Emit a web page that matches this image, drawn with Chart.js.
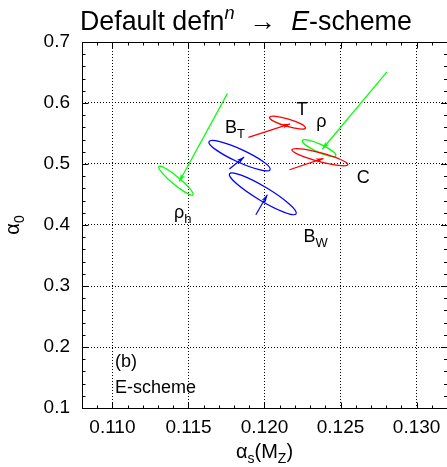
<!DOCTYPE html>
<html>
<head>
<meta charset="utf-8">
<script src="https://cdn.jsdelivr.net/npm/chart.js@4"></script>
<style>
  html, body { margin: 0; padding: 0; background: #fff; }
  #wrap { width: 447px; height: 467px; }
</style>
</head>
<body>
<div id="wrap"><canvas id="chart" width="447" height="467"></canvas></div>
<script>
// --- ejes ---
const xMin = 0.108, xMax = 0.132;
const yMin = 0.1, yMax = 0.7;
const xMajorTicks = [0.110, 0.115, 0.120, 0.125, 0.130];
const yMajorTicks = [0.1, 0.2, 0.3, 0.4, 0.5, 0.6, 0.7];
const xMinorStep = 0.001;
const yMinorStep = 0.02;

// --- elipses (centro, extremo del eje mayor, razon menor/mayor) ---
const ellipseColors = ['#00ff00', '#0000ff', '#0000ff', '#ff0000', '#00ff00', '#ff0000'];
const ellipseCx = [0.11418, 0.11836, 0.11989, 0.12151, 0.12359, 0.12364];
const ellipseCy = [0.4726, 0.5136, 0.4512, 0.5678, 0.5260, 0.5112];
const ellipseMx = [0.11530, 0.12037, 0.12208, 0.12269, 0.12469, 0.12548];
const ellipseMy = [0.4493, 0.4906, 0.4184, 0.5591, 0.5136, 0.4989];
const ellipseRatio = [0.18, 0.19, 0.18, 0.2, 0.22, 0.15];

// --- flechas: default -> E-scheme ---
const arrowX0 = [0.11756, 0.11769, 0.11943, 0.11894, 0.12805, 0.12164];
const arrowY0 = [0.6154, 0.4918, 0.4168, 0.5437, 0.6511, 0.4906];
const arrowX1 = [0.11440, 0.11866, 0.12019, 0.12168, 0.12381, 0.12388];
const arrowY1 = [0.4714, 0.5115, 0.4496, 0.5657, 0.5246, 0.5092];

// --- etiquetas (x izquierda, linea base) ---
const labelMain = ['ρ', 'B', 'B', 'T', 'ρ', 'C', '(b)', 'E-scheme'];
const labelSub  = ['h', 'T', 'W', '', '', '', '', ''];
const labelX = [0.11405, 0.11741, 0.12256, 0.12211, 0.12340, 0.12607, 0.11017, 0.11017];
const labelY = [0.4110, 0.5509, 0.3729, 0.5798, 0.5613, 0.4688, 0.1672, 0.1240];

const FONT = '"Liberation Sans", Arial, sans-serif';

function isMajor(v, list) {
    return list.some(m => Math.abs(v - m) < 1e-7);
}

// texto con subindices / superindices
function richWidth(ctx, segs) {
    let w = 0;
    segs.forEach(s => {
        ctx.font = (s.italic ? 'italic ' : '') + s.size + 'px ' + FONT;
        w += ctx.measureText(s.t).width;
    });
    return w;
}
function drawRich(ctx, segs, x, y, align) {
    let cx = align === 'center' ? x - richWidth(ctx, segs) / 2 : x;
    ctx.textAlign = 'left';
    ctx.textBaseline = 'alphabetic';
    segs.forEach(s => {
        ctx.font = (s.italic ? 'italic ' : '') + s.size + 'px ' + FONT;
        ctx.fillText(s.t, cx, y + (s.dy || 0));
        cx += ctx.measureText(s.t).width;
    });
}

function titleSegs(sz) {
    return [
        { t: 'Default defn', size: sz },
        { t: 'n', size: sz * 0.68, italic: true, dy: -sz * 0.4 },
        { t: '  \u2192  ', size: sz },
        { t: 'E', size: sz, italic: true },
        { t: '-scheme', size: sz }
    ];
}

const overlayPlugin = {
    id: 'overlay',
    afterDatasetsDraw(chart) {
        const ctx = chart.ctx;
        const xs = chart.scales.x, ys = chart.scales.y;
        ctx.save();
        // elipses
        for (let i = 0; i < ellipseCx.length; i++) {
            const cx = xs.getPixelForValue(ellipseCx[i]), cy = ys.getPixelForValue(ellipseCy[i]);
            const mx = xs.getPixelForValue(ellipseMx[i]), my = ys.getPixelForValue(ellipseMy[i]);
            const a = Math.hypot(mx - cx, my - cy);
            const ang = Math.atan2(my - cy, mx - cx);
            ctx.beginPath();
            ctx.ellipse(cx, cy, a, a * ellipseRatio[i], ang, 0, Math.PI * 2);
            ctx.strokeStyle = ellipseColors[i];
            ctx.lineWidth = 1.3;
            ctx.stroke();
        }
        // puntas de flecha
        for (let i = 0; i < arrowX0.length; i++) {
            const x0 = xs.getPixelForValue(arrowX0[i]), y0 = ys.getPixelForValue(arrowY0[i]);
            const x1 = xs.getPixelForValue(arrowX1[i]), y1 = ys.getPixelForValue(arrowY1[i]);
            const th = Math.atan2(y1 - y0, x1 - x0);
            const L = 8, phi = 0.3;
            ctx.beginPath();
            ctx.moveTo(x1, y1);
            ctx.lineTo(x1 - L * Math.cos(th - phi), y1 - L * Math.sin(th - phi));
            ctx.lineTo(x1 - L * 0.7 * Math.cos(th), y1 - L * 0.7 * Math.sin(th));
            ctx.lineTo(x1 - L * Math.cos(th + phi), y1 - L * Math.sin(th + phi));
            ctx.closePath();
            ctx.fillStyle = ellipseColors[i];
            ctx.fill();
        }
        ctx.restore();
    },
    afterDraw(chart) {
        const ctx = chart.ctx;
        const area = chart.chartArea;
        const xs = chart.scales.x, ys = chart.scales.y;
        const L = Math.round(area.left) + 0.5, T = Math.round(area.top) + 0.5;
        const B = Math.round(area.bottom) + 0.5, R = Math.round(area.right) + 0.5;
        ctx.save();
        // marco (el borde derecho queda fuera de la imagen)
        ctx.strokeStyle = '#000';
        ctx.lineWidth = 1;
        ctx.beginPath();
        ctx.moveTo(R + 1, T); ctx.lineTo(L, T); ctx.lineTo(L, B); ctx.lineTo(R + 1, B);
        ctx.stroke();
        // marcas hacia dentro
        ctx.beginPath();
        xs.ticks.forEach(t => {
            const px = Math.round(xs.getPixelForValue(t.value)) + 0.5;
            const len = isMajor(t.value, xMajorTicks) ? 6 : 3;
            ctx.moveTo(px, B); ctx.lineTo(px, B - len);
            ctx.moveTo(px, T); ctx.lineTo(px, T + len);
        });
        ys.ticks.forEach(t => {
            const py = Math.round(ys.getPixelForValue(t.value)) + 0.5;
            const len = isMajor(t.value, yMajorTicks) ? 6 : 3;
            ctx.moveTo(L, py); ctx.lineTo(L + len, py);
            ctx.moveTo(area.right, py); ctx.lineTo(area.right - len, py);
        });
        ctx.stroke();

        // etiquetas dentro del grafico
        ctx.fillStyle = '#000';
        for (let i = 0; i < labelMain.length; i++) {
            const segs = [{ t: labelMain[i], size: 18 }];
            if (labelSub[i]) segs.push({ t: labelSub[i], size: 13, dy: 5 });
            drawRich(ctx, segs, xs.getPixelForValue(labelX[i]), ys.getPixelForValue(labelY[i]), 'left');
        }

        // titulo, ajustado al ancho 80..412
        const w22 = richWidth(ctx, titleSegs(22));
        const tsz = 22 * 332 / w22;
        drawRich(ctx, titleSegs(tsz), 80, 30, 'left');

        // titulo eje x
        const xt = [
            { t: 'α', size: 20 }, { t: 's', size: 14, dy: 5 },
            { t: '(M', size: 20 }, { t: 'Z', size: 14, dy: 5 }, { t: ')', size: 20 }
        ];
        drawRich(ctx, xt, (area.left + area.right) / 2, 458, 'center');

        // titulo eje y
        ctx.translate(19, (area.top + area.bottom) / 2);
        ctx.rotate(-Math.PI / 2);
        drawRich(ctx, [{ t: 'α', size: 20 }, { t: '0', size: 14, dy: 5 }], 0, 0, 'center');
        ctx.restore();
    }
};

const datasets = arrowX0.map((x0, i) => ({
    data: [{ x: x0, y: arrowY0[i] }, { x: arrowX1[i], y: arrowY1[i] }],
    showLine: true,
    borderColor: ellipseColors[i],
    borderWidth: 1.2,
    pointRadius: 0,
    fill: false
}));

const tickFont = { family: FONT, size: 19 };

new Chart(document.getElementById('chart'), {
    type: 'scatter',
    data: { datasets: datasets },
    options: {
        responsive: false,
        animation: false,
        devicePixelRatio: 1,
        layout: { padding: { top: 42, left: 0, right: 0, bottom: 0 } },
        plugins: { legend: { display: false }, title: { display: false }, tooltip: { enabled: false } },
        scales: {
            x: {
                type: 'linear', min: xMin, max: xMax,
                afterFit: s => { s.height = 59; s.paddingLeft = 0; s.paddingRight = 0; },
                grid: {
                    drawTicks: false,
                    lineWidth: 1,
                    color: c => (c.tick && isMajor(c.tick.value, xMajorTicks)) ? '#000' : 'rgba(0,0,0,0)'
                },
                border: { display: false, dash: [1, 2] },
                ticks: {
                    stepSize: xMinorStep, autoSkip: false, maxRotation: 0, padding: 8,
                    color: '#000', font: tickFont,
                    callback: v => isMajor(v, xMajorTicks) ? v.toFixed(3) : ''
                }
            },
            y: {
                type: 'linear', min: yMin, max: yMax,
                afterFit: s => { s.width = 82; },
                grid: {
                    drawTicks: false,
                    lineWidth: 1,
                    color: c => (c.tick && isMajor(c.tick.value, yMajorTicks)) ? '#000' : 'rgba(0,0,0,0)'
                },
                border: { display: false, dash: [1, 2] },
                ticks: {
                    stepSize: yMinorStep, autoSkip: false, padding: 12,
                    color: '#000', font: tickFont,
                    callback: v => isMajor(v, yMajorTicks) ? v.toFixed(1) : ''
                }
            }
        }
    },
    plugins: [overlayPlugin]
});
</script>
</body>
</html>
